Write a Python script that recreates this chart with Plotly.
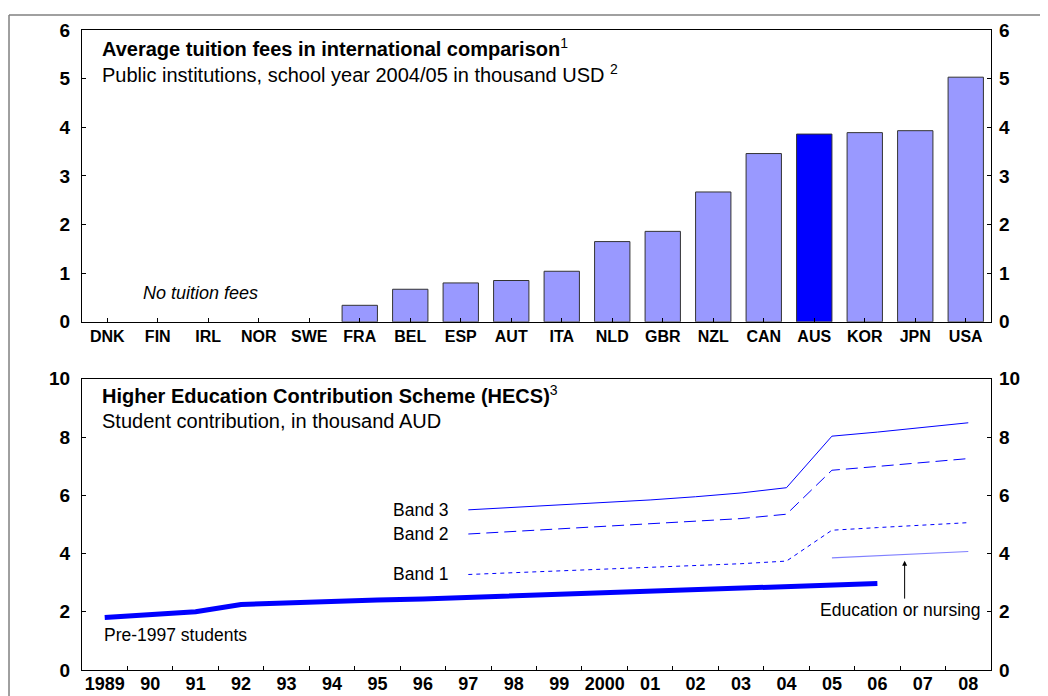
import plotly.graph_objects as go

# top panel: average tuition fees, public institutions 2004/05, thousand USD
countries = ["DNK", "FIN", "IRL", "NOR", "SWE", "FRA", "BEL", "ESP", "AUT", "ITA",
             "NLD", "GBR", "NZL", "CAN", "AUS", "KOR", "JPN", "USA"]
fees = [0, 0, 0, 0, 0, 0.34, 0.67, 0.80, 0.85, 1.04,
        1.65, 1.86, 2.67, 3.46, 3.86, 3.89, 3.93, 5.03]

# bottom panel: HECS student contribution, thousand AUD
years = list(range(1989, 2009))
year_labels = ["1989", "90", "91", "92", "93", "94", "95", "96", "97", "98",
               "99", "2000", "01", "02", "03", "04", "05", "06", "07", "08"]
pre1997_years = list(range(1989, 2007))
pre1997 = [1.80, 1.90, 2.00, 2.25, 2.31, 2.35, 2.40, 2.44, 2.49, 2.54,
           2.59, 2.64, 2.69, 2.74, 2.80, 2.85, 2.91, 2.97]
band_years = list(range(1997, 2009))
band3 = [5.50, 5.58, 5.66, 5.75, 5.84, 5.95, 6.08, 6.26, 8.03, 8.17, 8.33, 8.49]
band2 = [4.67, 4.76, 4.85, 4.93, 5.02, 5.10, 5.20, 5.35, 6.86, 6.99, 7.12, 7.26]
band1 = [3.28, 3.34, 3.40, 3.46, 3.52, 3.58, 3.65, 3.74, 4.80, 4.89, 4.97, 5.06]
edu_years = [2005, 2006, 2007, 2008]
edu_nursing = [3.85, 3.92, 3.99, 4.07]

FONT = "Liberation Sans"
BLUE = "#0000ff"
LIGHT = "#9999ff"

fig = go.Figure()

# bars
bar_colors = [BLUE if c == "AUS" else LIGHT for c in countries]
fig.add_trace(go.Bar(x=countries, y=[v if v > 0 else None for v in fees],
                     marker=dict(color=bar_colors, line=dict(color="#333333", width=1)),
                     width=0.7, xaxis="x", yaxis="y", showlegend=False))

# HECS lines
fig.add_trace(go.Scatter(x=pre1997_years, y=pre1997, mode="lines",
                         line=dict(color=BLUE, width=5), xaxis="x2", yaxis="y2"))
fig.add_trace(go.Scatter(x=band_years, y=band3, mode="lines",
                         line=dict(color=BLUE, width=1), xaxis="x2", yaxis="y2"))
fig.add_trace(go.Scatter(x=band_years, y=band2, mode="lines",
                         line=dict(color=BLUE, width=1, dash="12px,6px"), xaxis="x2", yaxis="y2"))
fig.add_trace(go.Scatter(x=band_years, y=band1, mode="lines",
                         line=dict(color=BLUE, width=1, dash="4px,4px"), xaxis="x2", yaxis="y2"))
fig.add_trace(go.Scatter(x=edu_years, y=edu_nursing, mode="lines",
                         line=dict(color="#8080ff", width=1.2), xaxis="x2", yaxis="y2"))

tick_font = dict(family=FONT, size=19, color="black", weight="bold")
axis_common = dict(showline=True, linecolor="black", linewidth=1, showgrid=False,
                   zeroline=False, fixedrange=True, automargin=False)
right_common = dict(side="right", showline=False, showgrid=False, zeroline=False,
                    ticks="", tickfont=tick_font, fixedrange=True, automargin=False,
                    ticklabelstandoff=7)

top_dom = [0.544, 1.0]
bot_dom = [0.0, 0.455]

# page body adds an 8px offset, so the figure is a bit smaller than the window
fig.update_layout(
    template="none",
    width=1040, height=688,
    margin=dict(l=74, r=57, t=22, b=26),
    plot_bgcolor="white", paper_bgcolor="white",
    showlegend=False, bargap=0.3,
    font=dict(family=FONT, color="black"),
    xaxis=dict(axis_common, domain=[0, 1], anchor="y", type="category",
               range=[-0.5, 17.5], mirror=True, ticks="inside", ticklen=4,
               tickcolor="black",
               tickfont=dict(family=FONT, size=16, color="black", weight="bold")),
    yaxis=dict(axis_common, domain=top_dom, anchor="x", range=[0, 6], dtick=1,
               mirror="ticks", ticks="inside", ticklen=4, tickcolor="black",
               tickfont=tick_font, ticklabelstandoff=7),
    yaxis3=dict(right_common, overlaying="y", anchor="x", range=[0, 6], dtick=1),
    xaxis2=dict(axis_common, domain=[0, 1], anchor="y2", range=[1988.5, 2008.5],
                mirror=True, tickmode="array", tickvals=years, ticktext=year_labels,
                ticks="", ticklabelstandoff=-3,
                tickfont=dict(family=FONT, size=18, color="black", weight="bold"),
                minor=dict(tickmode="array", tickvals=[y + 0.5 for y in years[:-1]],
                           ticks="inside", ticklen=4, tickcolor="black")),
    yaxis2=dict(axis_common, domain=bot_dom, anchor="x2", range=[0, 10], dtick=2,
                mirror="ticks", ticks="inside", ticklen=4, tickcolor="black",
                tickfont=tick_font, ticklabelstandoff=7),
    yaxis4=dict(right_common, overlaying="y2", anchor="x2", range=[0, 10], dtick=2),
)

# invisible traces so the right-hand label axes are drawn
fig.add_trace(go.Scatter(x=[countries[0]], y=[None], xaxis="x", yaxis="y3",
                         showlegend=False, hoverinfo="skip"))
fig.add_trace(go.Scatter(x=[years[0]], y=[None], xaxis="x2", yaxis="y4",
                         showlegend=False, hoverinfo="skip"))

# panel titles
titles = [
    (0.973, "<b>Average tuition fees in international comparison</b><sup>1</sup>"),
    (0.932, "Public institutions, school year 2004/05 in thousand USD <sup>2</sup>"),
    (0.430, "<b>Higher Education Contribution Scheme (HECS)</b><sup>3</sup>"),
    (0.389, "Student contribution, in thousand AUD"),
]
for ty, txt in titles:
    fig.add_annotation(x=0.02, y=ty, xref="paper", yref="paper", text=txt,
                       showarrow=False, xanchor="left", yanchor="middle",
                       font=dict(family=FONT, size=20, color="black"))

fig.add_annotation(x=1.84, y=0.6, xref="x", yref="y", text="<i>No tuition fees</i>",
                   showarrow=False, font=dict(family=FONT, size=18, color="black"))

label_font = dict(family=FONT, size=17.5, color="black")
for name, vals in [("Band 3", band3), ("Band 2", band2), ("Band 1", band1)]:
    fig.add_annotation(x=1996.6, y=vals[0], xref="x2", yref="y2", text=name,
                       showarrow=False, xanchor="right", yanchor="middle", font=label_font)
fig.add_annotation(x=1988.95, y=1.2, xref="x2", yref="y2", text="Pre-1997 students",
                   showarrow=False, xanchor="left", yanchor="middle", font=label_font)
fig.add_annotation(x=2006.6, y=3.75, ax=2006.6, ay=2.4, xref="x2", yref="y2",
                   axref="x2", ayref="y2", text="", showarrow=True, arrowhead=2,
                   arrowsize=1, arrowwidth=1, arrowcolor="black")
fig.add_annotation(x=2006.5, y=2.05, xref="x2", yref="y2", text="Education or nursing",
                   showarrow=False, xanchor="center", yanchor="middle", font=label_font)

# outer grey frame
fig.add_shape(type="line", xref="paper", yref="paper", x0=-0.0803, x1=1.07,
              y0=1.0234, y1=1.0234, line=dict(color="#808080", width=1.5))
fig.add_shape(type="line", xref="paper", yref="paper", x0=-0.0803, x1=-0.0803,
              y0=1.0234, y1=-0.05, line=dict(color="#808080", width=1.5))

fig.write_html("out.html")
